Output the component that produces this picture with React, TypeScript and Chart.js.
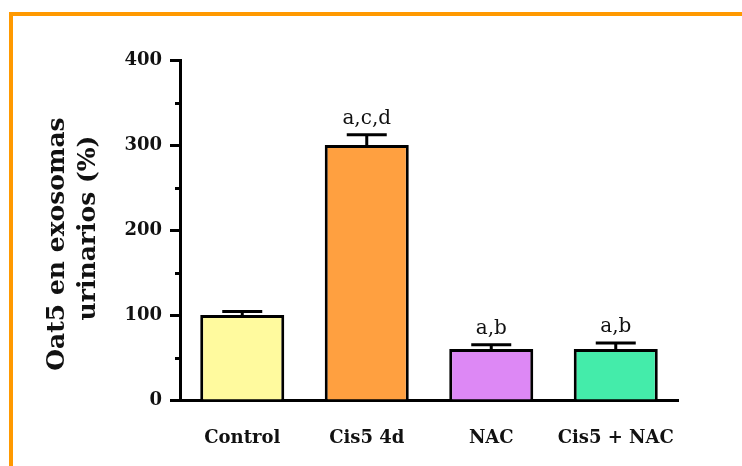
import React, { useEffect, useRef } from "react";
import { Chart, registerables } from "chart.js";

Chart.register(...registerables);

const categories = ["Control", "Cis5 4d", "NAC", "Cis5 + NAC"];
const means = [100, 300, 60, 60];
const sem = [4, 12, 5, 7];
const letters = ["", "a,c,d", "a,b", "a,b"];
const barColors = ["#FFFA9E", "#FFA040", "#DD88F5", "#44ECAA"];
const yMin = 0;
const yMax = 400;
const yStep = 100;
const yMinorStep = 50;
const titleLines = ["Oat5 en exosomas", "urinarios (%)"];

const W = 742;
const H = 466;
const SERIF = "'DejaVu Serif', serif";

const framePlugin = {
  id: "frame",
  beforeDraw(chart: any) {
    const ctx = chart.ctx;
    ctx.save();
    ctx.fillStyle = "#FFFFFF";
    ctx.fillRect(0, 0, W, H);
    ctx.fillStyle = "#FF9900";
    ctx.fillRect(9, 12, 4, H);
    ctx.fillRect(9, 12, W, 4);
    ctx.restore();
  },
};

const extrasPlugin = {
  id: "extras",
  afterDraw(chart: any) {
    const ctx = chart.ctx;
    const y = chart.scales.y;
    const meta = chart.getDatasetMeta(0);
    ctx.save();
    // minor ticks on the value axis
    ctx.strokeStyle = "#000";
    ctx.lineWidth = 3;
    for (let v = yMin + yMinorStep; v < yMax; v += yStep) {
      const py = Math.round(y.getPixelForValue(v)) + 0.5;
      ctx.beginPath();
      ctx.moveTo(chart.chartArea.left - 5, py);
      ctx.lineTo(chart.chartArea.left, py);
      ctx.stroke();
    }
    // error bars (upper half) and significance letters
    meta.data.forEach((bar: any, i: number) => {
      const x = bar.x;
      const top = y.getPixelForValue(means[i]);
      const errTop = y.getPixelForValue(means[i] + sem[i]);
      ctx.strokeStyle = "#000";
      ctx.lineWidth = 3;
      ctx.beginPath();
      ctx.moveTo(x, top);
      ctx.lineTo(x, errTop);
      ctx.moveTo(x - 20, errTop);
      ctx.lineTo(x + 20, errTop);
      ctx.stroke();
      if (letters[i]) {
        ctx.fillStyle = "#111";
        ctx.font = `20px ${SERIF}`;
        ctx.textAlign = "center";
        ctx.textBaseline = "alphabetic";
        ctx.fillText(letters[i], x, errTop - 11);
      }
    });
    // axis title, two centred lines
    ctx.fillStyle = "#111";
    ctx.font = `bold 25px ${SERIF}`;
    ctx.textAlign = "center";
    ctx.textBaseline = "alphabetic";
    ctx.save();
    ctx.translate(64, 244);
    ctx.rotate(-Math.PI / 2);
    ctx.fillText(titleLines[0], 0, 0);
    ctx.restore();
    ctx.save();
    ctx.translate(95, 228);
    ctx.rotate(-Math.PI / 2);
    ctx.fillText(titleLines[1], 0, 0);
    ctx.restore();
    ctx.restore();
  },
};

export default function App() {
  const ref = useRef<HTMLCanvasElement | null>(null);

  useEffect(() => {
    if (!ref.current) return;
    const chart = new Chart(ref.current, {
      type: "bar",
      data: {
        labels: categories,
        datasets: [
          {
            data: means,
            backgroundColor: barColors,
            borderColor: "#000",
            borderWidth: 3,
            categoryPercentage: 1,
            barPercentage: 0.675,
          },
        ],
      },
      options: {
        responsive: false,
        animation: false,
        events: [],
        layout: { padding: { left: 0, top: 60, right: 64, bottom: 0 } },
        plugins: { legend: { display: false }, tooltip: { enabled: false } },
        scales: {
          x: {
            offset: true,
            grid: { display: false, drawTicks: false },
            border: { display: true, color: "#000", width: 3 },
            ticks: {
              color: "#111",
              font: { family: SERIF, size: 18, weight: "bold" },
              padding: 28,
            },
            afterFit(scale: any) {
              scale.height = 66;
            },
          },
          y: {
            min: yMin,
            max: yMax,
            grid: {
              display: true,
              drawOnChartArea: false,
              drawTicks: true,
              tickLength: 10,
              tickWidth: 3,
              tickColor: "#000",
            },
            border: { display: true, color: "#000", width: 3 },
            ticks: {
              stepSize: yStep,
              color: "#111",
              font: { family: SERIF, size: 18, weight: "bold" },
              padding: 8,
            },
            afterFit(scale: any) {
              scale.width = 180;
            },
          },
        },
      },
      plugins: [framePlugin, extrasPlugin],
    });
    return () => chart.destroy();
  }, []);

  return (
    <div style={{ position: "fixed", left: 0, top: 0, width: W, height: H }}>
      <canvas ref={ref} width={W} height={H} style={{ display: "block" }} />
    </div>
  );
}
